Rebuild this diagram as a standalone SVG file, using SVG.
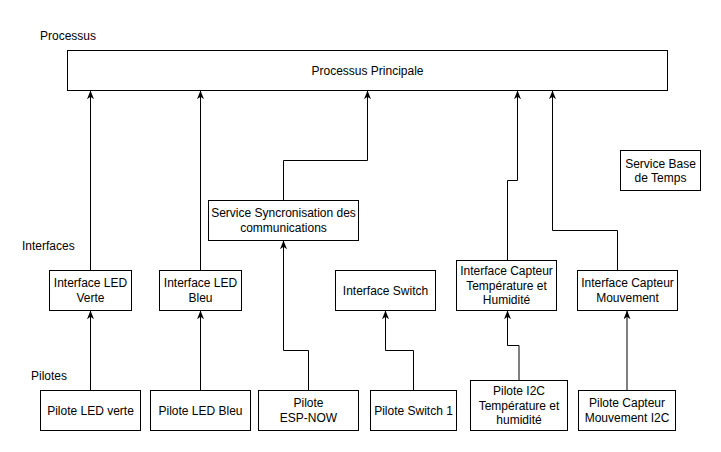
<svg xmlns="http://www.w3.org/2000/svg" width="721" height="452" viewBox="0 0 721 452">
<defs>
<marker id="arr" viewBox="0 0 10 8" refX="10" refY="4" markerWidth="9" markerHeight="7" markerUnits="userSpaceOnUse" orient="auto">
<path d="M0,0 L10,4 L0,8 L3,4 Z" fill="#000"/>
</marker>
</defs>
<style>
.box{fill:#fff;stroke:#000;stroke-width:1}
.t{font-family:"Liberation Sans",Arial,sans-serif;font-size:12px;fill:#000;text-anchor:middle}
.l{font-family:"Liberation Sans",Arial,sans-serif;font-size:12px;fill:#000}
.c{fill:none;stroke:#000;stroke-width:1;marker-end:url(#arr)}
</style>
<rect width="721" height="452" fill="#fff"/>
<text class="l" x="40" y="40">Processus</text>
<text class="l" x="22" y="250">Interfaces</text>
<text class="l" x="31" y="380">Pilotes</text>

<g id="connectors">
<path class="c" d="M90.5,270.5 V90.5"/>
<path class="c" d="M200.5,270.5 V90.5"/>
<path class="c" d="M283.5,200.5 V160.5 H367.5 V90.5"/>
<path class="c" d="M507.5,260.5 V180.5 H517.5 V90.5"/>
<path class="c" d="M617.5,270.5 V230.5 H552.5 V90.5"/>
<path class="c" d="M90.5,390.5 V310.5"/>
<path class="c" d="M200.5,390.5 V310.5"/>
<path class="c" d="M308.5,390.5 V350.5 H283.5 V240.5"/>
<path class="c" d="M413.5,390.5 V350.5 H385.5 V310.5"/>
<path class="c" d="M519,380.5 V345.5 H507.5 V310.5"/>
<path class="c" d="M627,390.5 V310.5"/>
</g>

<g id="processus-principale">
<rect class="box" x="67.5" y="50.5" width="600" height="40"/>
<text class="t" x="367.5" y="75">Processus Principale</text>
</g>
<g id="service-base-temps">
<rect class="box" x="620.5" y="150.5" width="80" height="40"/>
<text class="t" x="660.5" y="167.5">Service Base</text>
<text class="t" x="660.5" y="181.5">de Temps</text>
</g>
<g id="service-sync">
<rect class="box" x="208.5" y="200.5" width="150" height="40"/>
<text class="t" x="283.5" y="217">Service Syncronisation des</text>
<text class="t" x="283.5" y="232">communications</text>
</g>
<g id="interface-led-verte">
<rect class="box" x="49.5" y="270.5" width="82" height="40"/>
<text class="t" x="90.5" y="287">Interface LED</text>
<text class="t" x="90.5" y="301.5">Verte</text>
</g>
<g id="interface-led-bleu">
<rect class="box" x="159.5" y="270.5" width="82" height="40"/>
<text class="t" x="200.5" y="287">Interface LED</text>
<text class="t" x="200.5" y="301.5">Bleu</text>
</g>
<g id="interface-switch">
<rect class="box" x="335.5" y="270.5" width="100" height="40"/>
<text class="t" x="385.5" y="295">Interface Switch</text>
</g>
<g id="interface-capteur-temp">
<rect class="box" x="456.5" y="260.5" width="100" height="50"/>
<text class="t" x="506.5" y="275">Interface Capteur</text>
<text class="t" x="506.5" y="289.5">Température et</text>
<text class="t" x="506.5" y="304">Humidité</text>
</g>
<g id="interface-capteur-mouvement">
<rect class="box" x="577.5" y="270.5" width="100" height="40"/>
<text class="t" x="627.5" y="287">Interface Capteur</text>
<text class="t" x="627.5" y="301.5">Mouvement</text>
</g>
<g id="pilote-led-verte">
<rect class="box" x="40.5" y="390.5" width="100" height="40"/>
<text class="t" x="90.5" y="415">Pilote LED verte</text>
</g>
<g id="pilote-led-bleu">
<rect class="box" x="150.5" y="390.5" width="100" height="40"/>
<text class="t" x="200.5" y="415">Pilote LED Bleu</text>
</g>
<g id="pilote-esp-now">
<rect class="box" x="258.5" y="390.5" width="100" height="40"/>
<text class="t" x="308.5" y="407">Pilote</text>
<text class="t" x="308.5" y="421.5">ESP-NOW</text>
</g>
<g id="pilote-switch">
<rect class="box" x="370.5" y="390.5" width="86" height="40"/>
<text class="t" x="413.5" y="415">Pilote Switch 1</text>
</g>
<g id="pilote-i2c-temp">
<rect class="box" x="470.5" y="380.5" width="97" height="50"/>
<text class="t" x="519" y="395">Pilote I2C</text>
<text class="t" x="519" y="409.5">Température et</text>
<text class="t" x="519" y="424">humidité</text>
</g>
<g id="pilote-capteur-mouvement">
<rect class="box" x="578.5" y="390.5" width="97" height="40"/>
<text class="t" x="627" y="407">Pilote Capteur</text>
<text class="t" x="627" y="421.5">Mouvement I2C</text>
</g>
</svg>
